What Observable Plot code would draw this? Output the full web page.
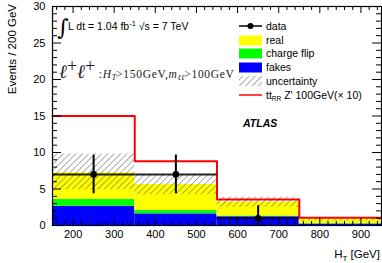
<!DOCTYPE html>
<html><head><meta charset="utf-8">
<script src="https://cdn.jsdelivr.net/npm/d3@7"></script>
<script src="https://cdn.jsdelivr.net/npm/@observablehq/plot@0.6"></script>
<style>
body{margin:0;background:#fff;}
#chart{position:relative;width:382px;height:263px;}
svg{font-family:"Liberation Sans",Arial,sans-serif;}
</style></head><body><div id="chart"></div>
<script>
// ---- data ----
const binLo = [150, 350, 550, 750];
const binHi = [350, 550, 750, 950];
const fakes = [2.64, 1.60, 1.20, 0.20];
const chargeFlip = [0.92, 0.45, 0.10, 0.05];
const real = [3.64, 3.55, 1.90, 0.55];
const uncLo = [4.9, 4.2, 2.5, 0.6];
const uncHi = [9.8, 7.0, 3.9, 1.0];
const zprime = [15.0, 8.8, 3.55, 1.05];
const dataX = [250, 450, 650, 850];
const dataY = [7, 7, 1, 0];
const dataErrUp = [2.65, 2.65, 1.7, 0];
const dataErrDn = [2.65, 2.65, 1.0, 0];
const xTicks = [200, 300, 400, 500, 600, 700, 800, 900];
const yTicks = [0, 5, 10, 15, 20, 25, 30];
const xDomain = [150, 950];
const yDomain = [0, 30];

// ---- layout ----
const W = 382, H = 263, mL = 52, mR = 1, mT = 6, mB = 38;
const kx = (W - mL - mR) / (xDomain[1] - xDomain[0]);
const ky = (H - mT - mB) / (yDomain[1] - yDomain[0]);

// ---- derived tables ----
const bins = binLo.map((lo, i) => ({lo, hi: binHi[i], i}));
const stackRows = [];
bins.forEach(b => {
  const f = fakes[b.i], c = chargeFlip[b.i], r = real[b.i];
  stackRows.push({x1: b.lo, x2: b.hi, y1: 0, y2: f, comp: "fakes"});
  stackRows.push({x1: b.lo, x2: b.hi, y1: f, y2: f + c, comp: "chargeflip"});
  stackRows.push({x1: b.lo, x2: b.hi, y1: f + c, y2: f + c + r, comp: "real"});
});
const uncRows = bins.map(b => ({x1: b.lo, x2: b.hi, y1: uncLo[b.i], y2: uncHi[b.i]}));
const zRows = [];
bins.forEach(b => { zRows.push({x: b.lo, y: zprime[b.i]}); zRows.push({x: b.hi, y: zprime[b.i]}); });
const dataRows = dataX.map((x, i) => ({x, y: dataY[i], lo: dataY[i] - dataErrDn[i], hi: dataY[i] + dataErrUp[i], x1: binLo[i], x2: binHi[i]})).filter(d => d.y > 0);

const range = (a, b, s) => d3.range(a, b + s / 2, s);
const yMinor = range(0, 30, 1).filter(v => v % 5 !== 0);
const xMinor = range(160, 940, 20).filter(v => v % 100 !== 0);
const xMajor = xTicks;
const yMajor = yTicks;

const compColor = {fakes: "#0000ff", chargeflip: "#00ff00", real: "#ffff00"};

const plot = Plot.plot({
  width: W, height: H,
  marginLeft: mL, marginRight: mR, marginTop: mT, marginBottom: mB,
  style: {fontSize: "11px", fontFamily: '"Liberation Sans", Arial, sans-serif', background: "white", color: "black"},
  x: {domain: xDomain, label: null},
  y: {domain: yDomain, label: null},
  marks: [
    Plot.rect(stackRows, {x1: "x1", x2: "x2", y1: "y1", y2: "y2", fill: d => compColor[d.comp]}),
    Plot.rect(uncRows, {x1: "x1", x2: "x2", y1: "y1", y2: "y2", fill: "url(#hatch)"}),
    Plot.line(zRows, {x: "x", y: "y", stroke: "#ff0000", strokeWidth: 2}),
    Plot.ruleY(dataRows, {y: "y", x1: "x1", x2: "x2", stroke: "black", strokeWidth: 2, strokeOpacity: 0.85}),
    Plot.ruleX(dataRows, {x: "x", y1: "lo", y2: "hi", stroke: "black", strokeWidth: 2}),
    Plot.dot(dataRows, {x: "x", y: "y", r: 3.3, fill: "black", stroke: null}),
    // inward ticks
    Plot.ruleY(yMajor, {x1: xDomain[0], x2: xDomain[0] + 9 / kx, stroke: "black"}),
    Plot.ruleY(yMinor, {x1: xDomain[0], x2: xDomain[0] + 5 / kx, stroke: "black"}),
    Plot.ruleY(yMajor, {x1: xDomain[1] - 9 / kx, x2: xDomain[1], stroke: "black"}),
    Plot.ruleY(yMinor, {x1: xDomain[1] - 5 / kx, x2: xDomain[1], stroke: "black"}),
    Plot.ruleX(xMajor, {y1: yDomain[0], y2: yDomain[0] + 7 / ky, stroke: "black"}),
    Plot.ruleX(xMinor, {y1: yDomain[0], y2: yDomain[0] + 4 / ky, stroke: "black"}),
    Plot.ruleX(xMajor, {y1: yDomain[1] - 7 / ky, y2: yDomain[1], stroke: "black"}),
    Plot.ruleX(xMinor, {y1: yDomain[1] - 4 / ky, y2: yDomain[1], stroke: "black"}),
    Plot.frame({stroke: "black", strokeWidth: 1.2}),
    Plot.axisX(xTicks, {tickSize: 0, tickPadding: 5, label: null, fontSize: 11}),
    Plot.axisY(yTicks, {tickSize: 0, tickPadding: 7, label: null, fontSize: 11})
  ]
});
document.getElementById("chart").appendChild(plot);

const svg = d3.select(plot);
const defs = svg.insert("defs", ":first-child");
const pat = defs.append("pattern").attr("id", "hatch").attr("patternUnits", "userSpaceOnUse")
  .attr("width", 4.5).attr("height", 4.5).attr("patternTransform", "rotate(45)");
pat.append("line").attr("x1", 0).attr("y1", 0).attr("x2", 0).attr("y2", 4.5)
  .attr("stroke", "#4a4a4a").attr("stroke-width", 0.9);

const g = svg.append("g").attr("font-family", '"Liberation Sans", Arial, sans-serif')
  .attr("fill", "black").attr("text-anchor", "start");

// axis titles
const xt = g.append("text").attr("x", 380).attr("y", 258).attr("text-anchor", "end").attr("font-size", 11.5);
xt.append("tspan").text("H");
xt.append("tspan").attr("font-size", 8).attr("dy", 2.5).text("T");
xt.append("tspan").attr("dy", -2.5).text(" [GeV]");
g.append("text").attr("transform", "translate(16,4) rotate(-90)").attr("text-anchor", "end")
  .attr("font-size", 11.5).text("Events / 200 GeV");

// luminosity label
g.append("text").attr("x", 57).attr("y", 35).attr("font-size", 22).attr("font-family", '"DejaVu Serif", serif').text("∫");
const lum = g.append("text").attr("x", 68).attr("y", 30).attr("font-size", 10.5);
lum.append("tspan").text("L dt = 1.04 fb");
lum.append("tspan").attr("font-size", 7.5).attr("dy", -4).text("-1");
lum.append("tspan").attr("dy", 4).text(" √s = 7 TeV");

// selection label
const sel = g.append("text").attr("x", 59).attr("y", 78).attr("font-family", '"Liberation Serif", "DejaVu Serif", serif').attr("fill", "#222");
sel.append("tspan").attr("font-size", 19).attr("font-style", "italic").text("ℓ");
sel.append("tspan").attr("font-size", 18).attr("dy", -6).text("+");
sel.append("tspan").attr("font-size", 19).attr("font-style", "italic").attr("dy", 6).text("ℓ");
sel.append("tspan").attr("font-size", 18).attr("dy", -6).text("+");
const sm = {"letter-spacing": 0.7};
sel.append("tspan").attr("font-size", 11.5).attr("letter-spacing", 0.7).attr("dy", 6).text(" :");
sel.append("tspan").attr("font-size", 11.5).attr("letter-spacing", 0.7).attr("font-style", "italic").text("H");
sel.append("tspan").attr("font-size", 8).attr("font-style", "italic").attr("dy", 2).text("T");
sel.append("tspan").attr("font-size", 11.5).attr("letter-spacing", 0.7).attr("dy", -2).text(">150GeV,");
sel.append("tspan").attr("font-size", 11.5).attr("letter-spacing", 0.7).attr("font-style", "italic").text("m");
sel.append("tspan").attr("font-size", 8).attr("font-style", "italic").attr("dy", 2).text("ℓℓ");
sel.append("tspan").attr("font-size", 11.5).attr("letter-spacing", 0.7).attr("dy", -2).text(">100GeV");

// legend
const lx = 239, lw = 23, tx = 266;
const rows = [26, 40.5, 53.5, 67.5, 81, 95];
const lfs = 10.5;
g.append("line").attr("x1", lx).attr("x2", lx + lw).attr("y1", rows[0]).attr("y2", rows[0]).attr("stroke", "black").attr("stroke-width", 1.5);
g.append("circle").attr("cx", lx + lw / 2).attr("cy", rows[0]).attr("r", 3).attr("fill", "black");
[["#ffff00", 1], ["#00ff00", 2], ["#0000ff", 3]].forEach(([c, k]) => {
  g.append("rect").attr("x", lx).attr("y", rows[k] - 5).attr("width", lw).attr("height", 10).attr("fill", c);
});
g.append("rect").attr("x", lx).attr("y", rows[4] - 5).attr("width", lw).attr("height", 10).attr("fill", "url(#hatch)");
g.append("line").attr("x1", lx).attr("x2", lx + lw).attr("y1", rows[5]).attr("y2", rows[5]).attr("stroke", "#ff0000").attr("stroke-width", 1.5);
const labels = ["data", "real", "charge flip", "fakes", "uncertainty"];
labels.forEach((t, k) => {
  g.append("text").attr("x", tx).attr("y", rows[k]).attr("dy", "0.36em").attr("font-size", lfs).text(t);
});
const zt = g.append("text").attr("x", tx).attr("y", rows[5]).attr("dy", "0.36em").attr("font-size", lfs);
zt.append("tspan").text("tt");
zt.append("tspan").attr("font-size", 6.5).attr("dy", 2.5).text("RR");
zt.append("tspan").attr("dy", -2.5).text(" Z' 100GeV(× 10)");

g.append("text").attr("x", 243).attr("y", 127).attr("font-size", 10.5).attr("font-weight", "bold").attr("font-style", "italic").text("ATLAS");
</script>
</body></html>
